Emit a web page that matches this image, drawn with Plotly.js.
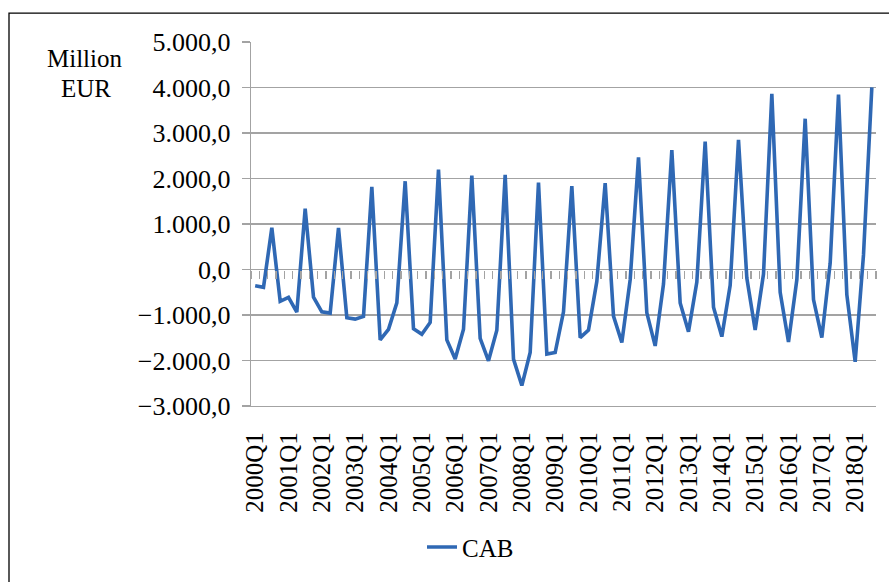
<!DOCTYPE html>
<html>
<head>
<meta charset="utf-8">
<script src="https://cdn.plot.ly/plotly-3.0.1.min.js"></script>
<style>
  html, body { margin: 0; padding: 0; background: #ffffff; }
  #chart { width: 889px; height: 582px; }
</style>
</head>
<body>
<div id="chart"></div>
<script>
// Current account balance, quarterly, million EUR
const years = [2000, 2001, 2002, 2003, 2004, 2005, 2006, 2007, 2008, 2009,
               2010, 2011, 2012, 2013, 2014, 2015, 2016, 2017, 2018];
const quarterNames = ['Q1', 'Q2', 'Q3', 'Q4'];

const cab = [
  -356, -392, 916, -698,      // 2000
  -610, -937, 1337, -610,     // 2001
  -930, -959, 916, -1061,     // 2002
  -1090, -1032, 1817, -1548,  // 2003
  -1315, -734, 1940, -1301,   // 2004
  -1424, -1163, 2195, -1548,  // 2005
  -1969, -1315, 2064, -1512,  // 2006
  -2006, -1337, 2078, -1969,  // 2007
  -2551, -1824, 1911, -1860,  // 2008
  -1824, -930, 1831, -1497,   // 2009
  -1330, -262, 1897, -1025,   // 2010
  -1606, -225, 2464, -952,    // 2011
  -1679, -320, 2624, -734,    // 2012
  -1366, -276, 2812, -828,    // 2013
  -1475, -349, 2849, -189,    // 2014
  -1330, -102, 3859, -501,    // 2015
  -1592, -225, 3314, -661,    // 2016
  -1497, 138, 3844, -552,     // 2017
  -2028, 320, 4004            // 2018 (Q1-Q3)
];

// Category labels: 2000Q1 ... 2018Q3
const quarters = [];
years.forEach(y => quarterNames.forEach(q => quarters.push(y + q)));
const periods = quarters.slice(0, cab.length);
const periodIndex = periods.map((p, i) => i);
// Only the first quarter of each year is labelled
const labelledPeriods = periods.filter(p => p.endsWith('Q1'));

const W = 889, H = 582;
const M = { l: 251, r: 13, t: 42, b: 174 };
const plotW = W - M.l - M.r, plotH = H - M.t - M.b;
const px = x => (x - M.l) / plotW;          // page x -> paper x
const py = y => 1 - (y - M.t) / plotH;      // page y -> paper y

const grey = '#a3a3a3';
const serif = '"Liberation Serif", "Times New Roman", Times, serif';
const yMin = -3000, yMax = 5000;

const data = [
  {
    type: 'scatter',
    mode: 'lines',
    name: 'CAB',
    x: periods,
    y: cab,
    line: { color: '#2f68b4', width: 3.6 },
    hoverinfo: 'x+y'
  },
  // same series on the index axis that carries the category tick marks at zero
  {
    type: 'scatter',
    mode: 'lines',
    name: 'CAB',
    x: periodIndex,
    y: cab,
    xaxis: 'x2',
    line: { color: 'rgba(0,0,0,0)', width: 0 },
    showlegend: false,
    hoverinfo: 'skip'
  }
];

const layout = {
  width: W, height: H,
  margin: M,
  paper_bgcolor: '#ffffff',
  plot_bgcolor: '#ffffff',
  separators: ',.',
  font: { family: serif, size: 25, color: '#000000' },
  showlegend: true,
  legend: {
    orientation: 'h',
    x: px(422), xanchor: 'left',
    y: py(550), yanchor: 'middle',
    font: { family: serif, size: 25, color: '#000000' },
    bgcolor: 'rgba(0,0,0,0)'
  },
  xaxis: {
    type: 'category',
    categoryorder: 'array',
    categoryarray: periods,
    range: [-0.5, periods.length - 0.5],
    tickvals: labelledPeriods,
    ticktext: labelledPeriods,
    tickangle: -90,
    ticks: '',
    ticklabelstandoff: 15,
    tickfont: { family: serif, size: 25, color: '#000000' },
    showgrid: false,
    zeroline: false,
    showline: true,
    linecolor: grey,
    linewidth: 1.3,
    fixedrange: true
  },
  // Category boundary tick marks along the zero line
  xaxis2: {
    overlaying: 'x',
    anchor: 'free',
    position: (0 - yMin) / (yMax - yMin),
    side: 'bottom',
    type: 'linear',
    range: [-0.5, periods.length - 0.5],
    tick0: -0.5,
    dtick: 1,
    ticks: 'outside',
    ticklen: 8,
    tickwidth: 1.3,
    tickcolor: grey,
    showticklabels: false,
    showgrid: false,
    zeroline: false,
    showline: false,
    fixedrange: true
  },
  yaxis: {
    range: [yMin, yMax],
    dtick: 1000,
    tick0: 0,
    tickformat: ',.1f',
    ticks: 'outside',
    ticklen: 8,
    tickwidth: 1.3,
    tickcolor: grey,
    ticklabelstandoff: 6,
    tickfont: { family: serif, size: 26, color: '#000000' },
    showgrid: true,
    gridcolor: grey,
    gridwidth: 1.3,
    zeroline: true,
    zerolinecolor: grey,
    zerolinewidth: 1.3,
    showline: true,
    linecolor: grey,
    linewidth: 1.3,
    fixedrange: true
  },
  annotations: [
    { text: 'Million', xref: 'paper', yref: 'paper', x: px(85), y: py(59),
      xanchor: 'center', yanchor: 'middle', showarrow: false,
      font: { family: serif, size: 25, color: '#000000' } },
    { text: 'EUR', xref: 'paper', yref: 'paper', x: px(86), y: py(89),
      xanchor: 'center', yanchor: 'middle', showarrow: false,
      font: { family: serif, size: 25, color: '#000000' } }
  ],
  shapes: [
    // chart frame
    { type: 'rect', xref: 'paper', yref: 'paper', layer: 'above',
      x0: px(9), x1: px(W + 20), y0: py(H + 20), y1: py(13),
      line: { color: '#000000', width: 1.3 } }
  ]
};

Plotly.newPlot('chart', data, layout, { displayModeBar: false, staticPlot: true });
</script>
</body>
</html>
